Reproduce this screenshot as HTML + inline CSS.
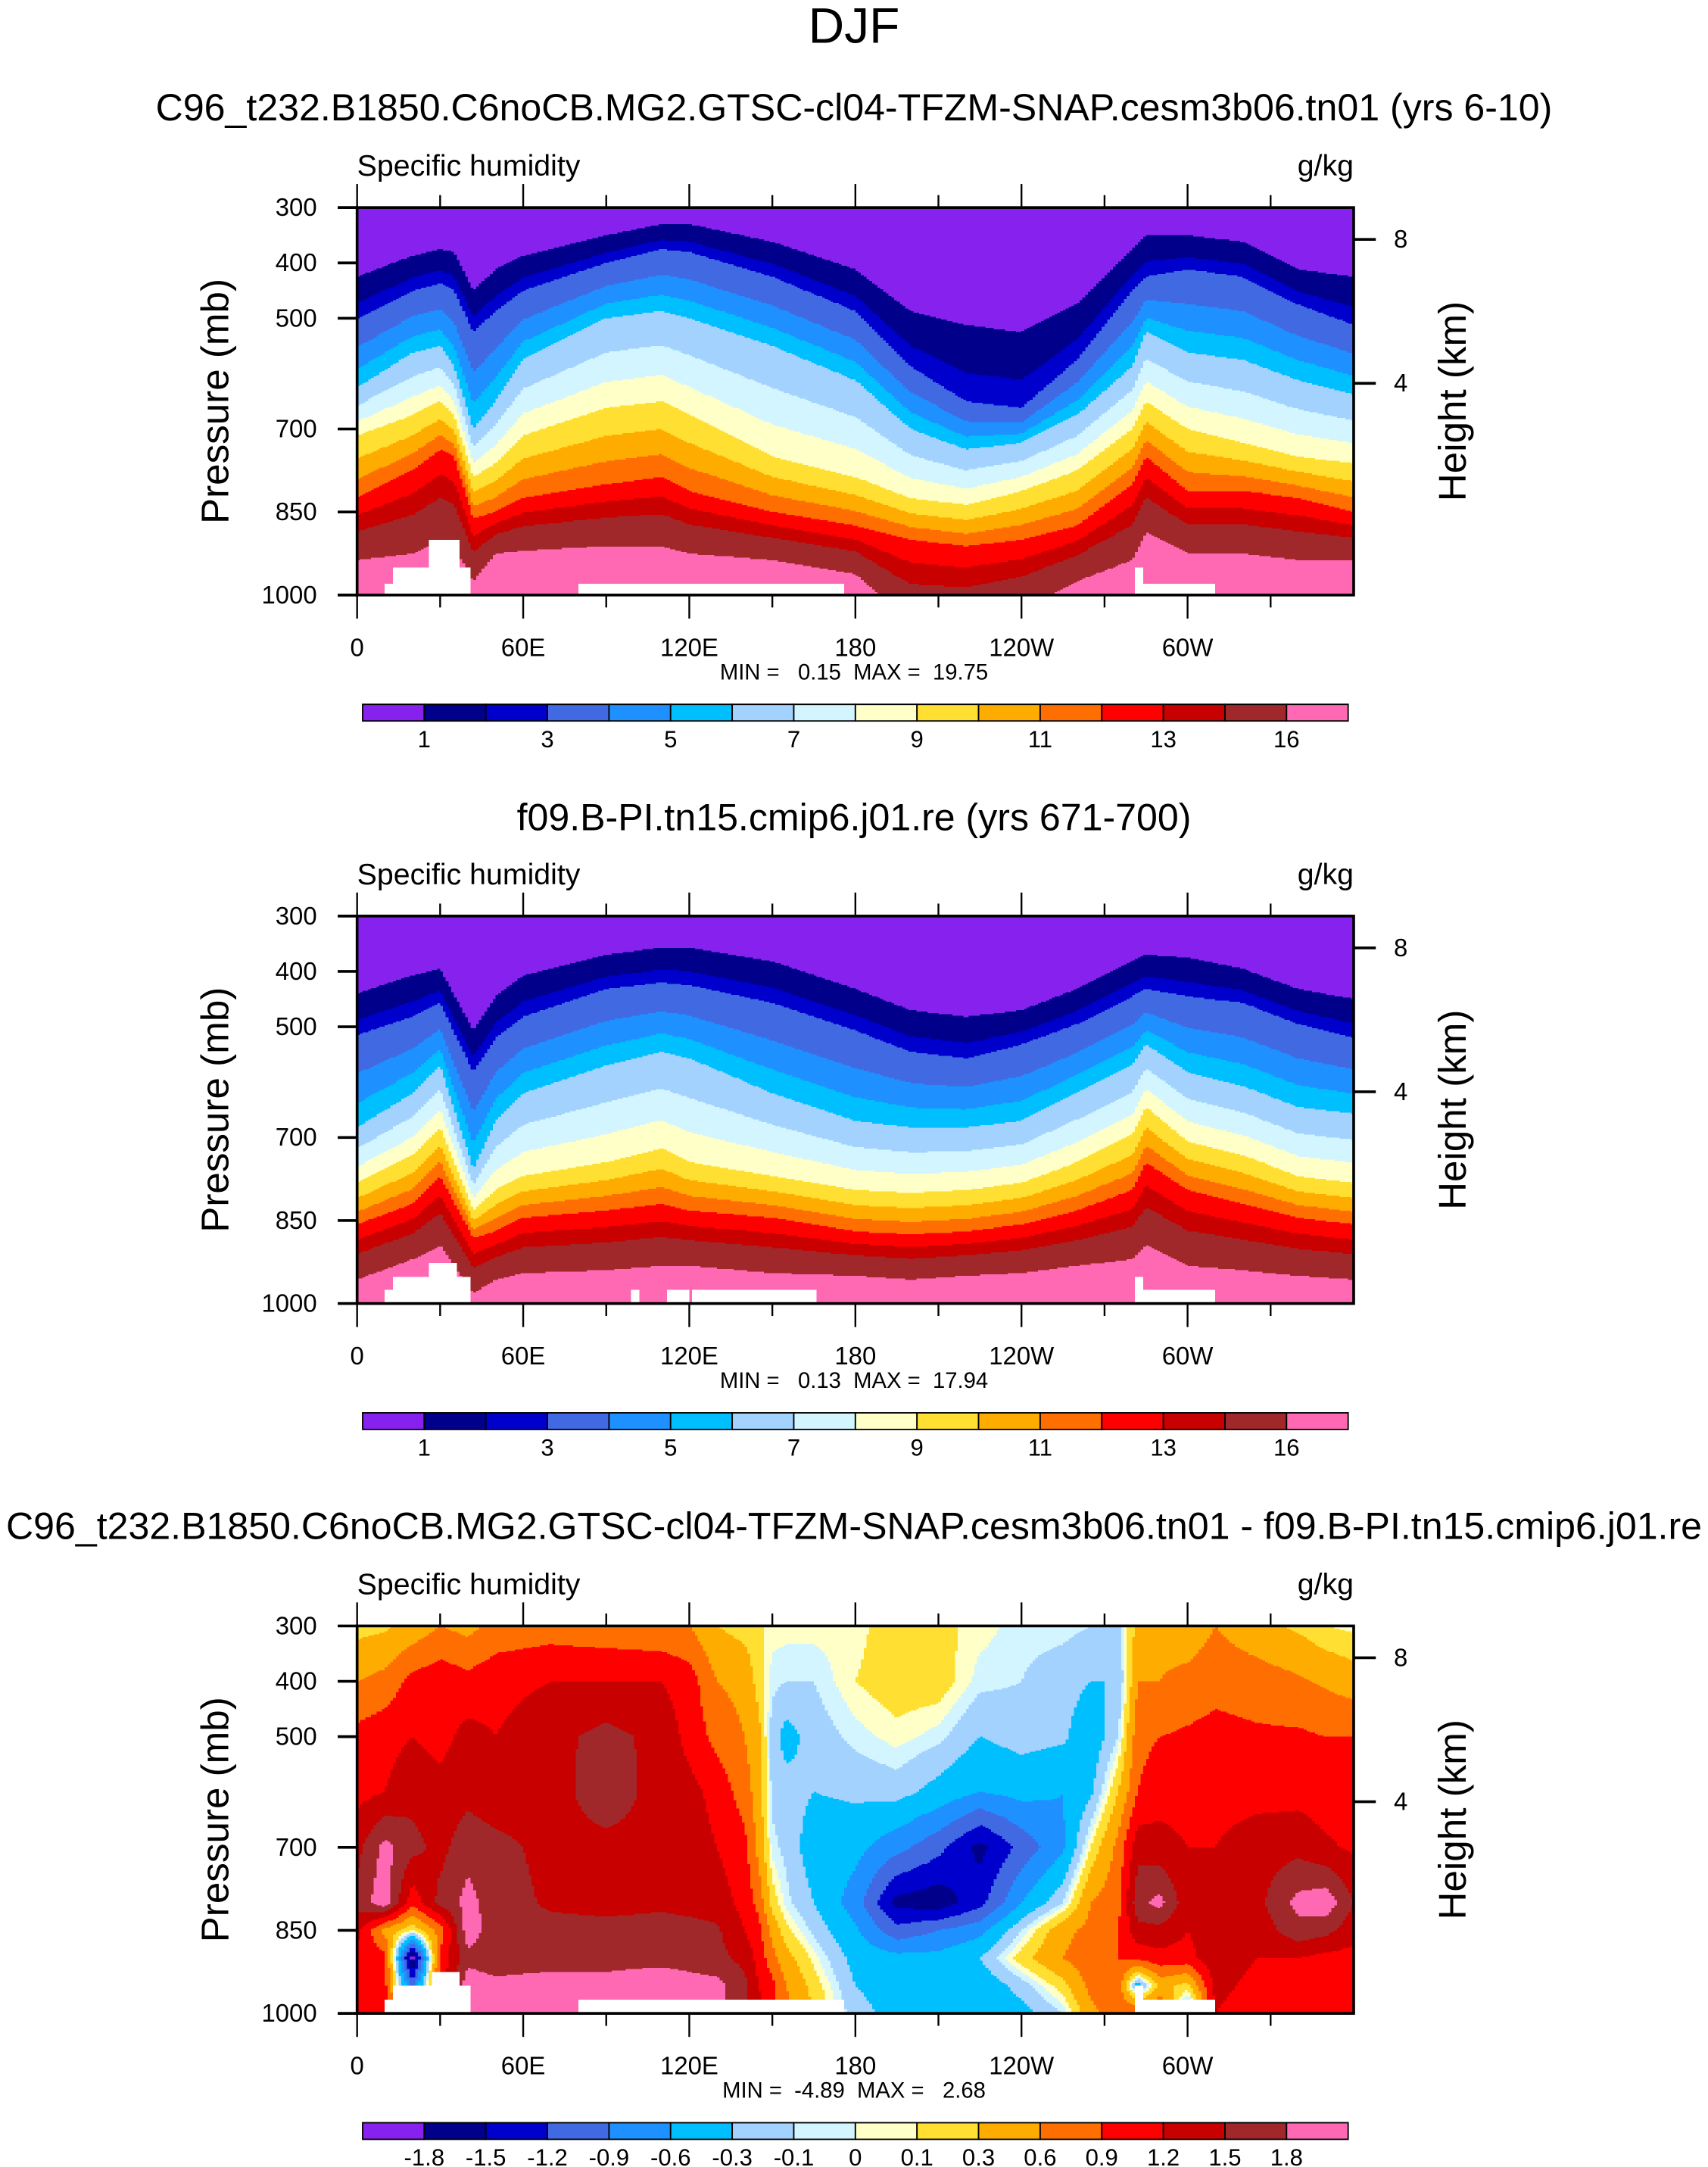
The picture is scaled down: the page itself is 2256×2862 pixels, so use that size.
<!DOCTYPE html>
<html><head><meta charset="utf-8"><style>
html,body{margin:0;padding:0;background:#fff;}
svg{display:block;font-family:"Liberation Sans",sans-serif;}
.pre{white-space:pre;}
</style></head><body>
<svg id="fig" width="2256" height="2862" viewBox="0 0 1234 1566" preserveAspectRatio="none" xmlns="http://www.w3.org/2000/svg">
<text x="617" y="31" font-size="36" text-anchor="middle">DJF</text>
</svg>
<script>
// ---------- data ----------
const colors = ["#8722ee","#00008b","#0000cd","#4169e1","#1e90ff","#00bfff","#a3d2ff","#d2f5ff","#ffffc8","#ffe032","#ffac00","#ff6e00","#ff0000","#c80000","#a0282a","#ff69b4"];
const levelsQ = [1,2,3,4,5,6,7,8,9,10,11,12,13,14,16];
const levelsD = [-1.8,-1.5,-1.2,-0.9,-0.6,-0.3,-0.1,0,0.1,0.3,0.6,0.9,1.2,1.5,1.8];
const labelsQ = ["1","3","5","7","9","11","13","16"];
const labelsD = ["-1.8","-1.5","-1.2","-0.9","-0.6","-0.3","-0.1","0","0.1","0.3","0.6","0.9","1.2","1.5","1.8"];
const isoLevels = [1,3,6,9,12,16];
const xTickLons = [0,60,120,180,240,300];
const xTickLabels = ["0","60E","120E","180","120W","60W"];
const pTicks = [300,400,500,700,850,1000];
const hTicks = [[8,173],[4,277]];

// panel 1: pressure (mb) of isolines q=1,3,6,9,12,16 at each longitude
const lons1 = [0,20,30,35,42,50,60,90,110,120,150,180,200,220,240,260,280,285,300,320,340,360];
const iso1_1 = [425,387,375,380,450,412,387,350,330,330,362,412,487,512,525,475,375,350,350,362,412,425];
const iso1_3 = [500,450,437,450,525,487,450,400,375,380,425,487,587,650,662,575,450,425,412,425,475,512];
const iso1_6 = [625,562,550,587,700,650,575,500,487,500,550,612,700,737,725,675,587,525,562,575,612,637];
const iso1_9 = [712,675,650,675,787,762,712,662,650,675,750,787,825,837,812,775,700,650,700,725,750,762];
const iso1_12 = [825,775,737,750,862,850,825,800,787,812,850,875,900,912,900,875,800,750,812,812,825,850];
const iso1_16 = [937,925,900,912,975,925,920,912,912,925,937,962,1050,1050,1025,975,937,887,925,925,937,937];
const ground1 = [[10,13,980],[13,26,950],[26,37,900],[37,41,950],[80,176,980],[281,284,950],[284,310,980]];

// panel 2
const lons2 = [0,20,30,42,50,60,90,110,120,150,180,200,220,240,260,280,285,300,320,340,360];
const iso2_1 = [440,407,395,507,445,407,370,357,357,382,432,470,482,470,432,382,370,375,395,432,450];
const iso2_3 = [515,482,457,582,520,482,432,420,425,457,507,545,557,532,495,445,432,445,457,495,520];
const iso2_6 = [682,620,570,757,670,620,570,545,557,620,670,682,682,670,620,570,532,582,607,645,657];
const iso2_9 = [782,732,682,832,795,770,745,720,745,770,795,800,795,782,745,695,645,707,732,770,782];
const iso2_12 = [857,820,770,882,870,845,832,820,832,845,870,875,870,857,832,795,745,795,820,845,857];
const iso2_16 = [957,920,895,982,957,945,940,932,932,945,950,957,950,945,932,920,895,932,940,950,957];
const ground2 = [[10,13,975],[13,26,952],[26,36,927],[36,41,952],[99,102,975],[112,120,975],[121,166,975],[281,284,952],[284,310,975]];

// panel 3: difference field on grid (lon x pressure)
const lons3 = [0,10,20,30,40,50,70,90,110,120,130,140,145,150,155,165,180,195,210,225,240,255,265,275,282,290,300,310,325,340,350,360];
const pres3 = [300,400,500,600,700,800,850,900,950,1000];
const diff3 = [
[0.2,0.6,1.0,1.1,1.4,1.6,1.3,1.1,1.1,1.0],
[0.25,0.7,1.1,1.2,1.9,2.0,0.5,1.0,1.0,1.0],
[0.4,1.0,1.2,1.4,1.6,1.0,0.1,-2.0,-1.0,0.5],
[0.6,1.1,1.1,1.3,1.4,1.6,0.7,1.0,1.0,1.0],
[0.5,1.0,1.3,1.4,1.7,1.9,2.0,1.7,2.0,2.0],
[0.7,1.1,1.2,1.3,1.6,1.65,1.6,1.6,1.9,2.0],
[0.75,1.2,1.4,1.35,1.4,1.45,1.6,1.6,2.0,2.0],
[0.7,1.2,1.6,1.7,1.4,1.4,1.6,1.7,1.9,2.0],
[0.65,1.2,1.4,1.35,1.4,1.45,1.6,1.7,2.0,2.0],
[0.6,1.05,1.1,1.3,1.35,1.4,1.6,1.7,1.9,2.0],
[0.3,0.6,0.8,1.1,1.2,1.35,1.55,1.6,1.9,1.9],
[0.2,0.5,0.6,0.75,1.0,1.1,1.2,1.4,1.6,1.6],
[0.15,0.2,0.4,0.45,0.5,0.8,1.0,1.1,1.2,1.3],
[0.05,-0.05,-0.2,-0.15,-0.05,0.2,0.5,0.7,1.0,1.0],
[0.05,-0.1,-0.4,-0.2,-0.15,-0.05,0.15,0.4,0.6,0.7],
[0.05,-0.1,-0.2,-0.3,-0.45,-0.3,-0.15,0.05,0.2,0.3],
[0.05,0.1,-0.05,-0.25,-0.5,-0.75,-0.55,-0.4,-0.3,-0.2],
[0.2,0.2,0.05,-0.2,-0.8,-1.6,-1.1,-0.5,-0.45,-0.4],
[0.15,0.2,-0.05,-0.4,-1.1,-1.7,-0.9,-0.5,-0.45,-0.45],
[0.05,-0.05,-0.3,-0.6,-1.6,-1.3,-0.7,-0.3,-0.5,-0.5],
[-0.05,-0.1,-0.2,-0.5,-1.1,-0.6,-0.1,0.2,-0.2,-0.4],
[-0.05,-0.2,-0.25,-0.6,-0.65,-0.1,0.5,0.6,0.2,-0.1],
[-0.1,-0.3,-0.5,-0.35,0.1,0.6,0.7,0.8,0.7,0.5],
[-0.2,-0.3,-0.1,0.3,0.7,0.8,0.9,0.9,0.8,0.8],
[0.4,0.6,0.8,0.9,1.4,1.7,1.4,1.0,-0.5,1.0],
[0.5,0.6,0.9,1.1,1.3,1.9,1.4,1.1,0.4,1.0],
[0.4,0.7,0.95,1.1,1.2,1.3,1.2,1.1,0.2,-0.5],
[0.6,0.8,1.0,1.1,1.2,1.4,1.4,1.4,1.3,1.2],
[0.4,0.75,0.95,1.1,1.35,1.4,1.3,1.2,1.1,1.0],
[0.25,0.65,0.95,1.1,1.4,1.9,1.7,1.2,1.1,1.0],
[0.1,0.55,0.9,1.05,1.25,2.0,1.6,1.1,1.0,1.0],
[0.05,0.45,0.9,1.05,1.15,1.5,1.3,1.1,1.0,1.0]
];
const ground3 = [[10,13,975],[13,27,950],[27,37,925],[37,41,950],[80,176,975],[281,284,950],[284,310,975]];

// ---------- geometry ----------
const NS = "http://www.w3.org/2000/svg";
const svg = document.getElementById('fig');
const X0 = 258, X1 = 978, PH = 280;
function xOf(lon){ return X0 + (X1 - X0) * lon / 360; }
function yOf(p, top){ return top + (p - 300) / 700 * PH; }
function mk(tag, attrs, parent){ const e = document.createElementNS(NS, tag); for (const k in attrs) e.setAttribute(k, attrs[k]); (parent||svg).appendChild(e); return e; }
function interp1(xs, ys, x){
  if (x <= xs[0]) return ys[0];
  for (let i = 1; i < xs.length; i++) if (x <= xs[i]) { const t = (x - xs[i-1]) / (xs[i] - xs[i-1]); return ys[i-1] + t * (ys[i] - ys[i-1]); }
  return ys[ys.length-1];
}
function bandOf(v, levels){ let b = 0; for (const l of levels) if (v >= l) b++; return b; }
function qIso(isos, lons, lon, p){
  const P = isos.map(a => interp1(lons, a, lon));
  const L = isoLevels.map(Math.log);
  let k = 0;
  if (p <= P[0]) k = 0; else if (p >= P[P.length-1]) k = P.length - 2;
  else { for (let i = 0; i < P.length - 1; i++) if (p >= P[i] && p <= P[i+1]) { k = i; break; } }
  const t = (p - P[k]) / Math.max(1, P[k+1] - P[k]);
  return Math.exp(L[k] + t * (L[k+1] - L[k]));
}
function qGrid(lon, p){
  const col = pres3.map((_, j) => interp1(lons3, diff3.map(r => r[j]), lon));
  return interp1(pres3, col, p);
}

function drawField(top, valFn, levels, ground, name){
  const g = mk('g', {'shape-rendering':'crispEdges'});
  
  
  const step = 1;
  for (let lon = 0; lon < 360; lon += step) {
    const lc = lon + step/2;
    const x = xOf(lon), w = xOf(lon + step) - x + 0.6;
    let runStart = 0, runBand = -1;
    const rows = PH;
    for (let r = 0; r <= rows; r++) {
      let b = -2;
      if (r < rows) { const p = 300 + (r + 0.5) / rows * 700; b = bandOf(valFn(lc, p), levels); }
      if (b !== runBand) {
        if (runBand >= 0) {
          const rc = mk('rect', {x: x.toFixed(2), y: (top + runStart).toFixed(2), width: w.toFixed(2), height: (r - runStart + 0.6).toFixed(2), fill: colors[runBand]}, g);
          
          
        }
        runStart = r; runBand = b;
      }
    }
  }
  for (const gr of ground) {
    const r = mk('rect', {x: xOf(gr[0]), y: yOf(gr[2], top), width: xOf(gr[1]) - xOf(gr[0]), height: yOf(1000, top) - yOf(gr[2], top), fill: '#fff'}, g);
    
    
  }
}

function drawAxes(top, minmax, name){
  const g = mk('g', {stroke:'#000', fill:'none'});
  
  
  const fr = mk('rect', {x: X0, y: top, width: X1 - X0, height: PH, 'stroke-width': 2}, g);
  
  
  for (let lon = 0; lon < 360; lon += 30) {
    const major = lon % 60 === 0, L = major ? 17 : 9, x = xOf(lon);
    mk('line', {x1: x, y1: top + PH, x2: x, y2: top + PH + L, 'stroke-width': 1.3}, g);
    mk('line', {x1: x, y1: top, x2: x, y2: top - L, 'stroke-width': 1.3}, g);
  }
  xTickLons.forEach((lon, i) => {
    const t = mk('text', {x: xOf(lon), y: top + PH + 44, 'font-size': 18, 'text-anchor': 'middle', fill: '#000', stroke: 'none'});
    t.textContent = xTickLabels[i];
    
    
  });
  pTicks.forEach(p => {
    const y = yOf(p, top);
    mk('line', {x1: X0 - 14, y1: y, x2: X0, y2: y, 'stroke-width': 2}, g);
    const t = mk('text', {x: 229, y: y + 6, 'font-size': 18, 'text-anchor': 'end', fill: '#000', stroke: 'none'});
    t.textContent = String(p);
    
    
  });
  hTicks.forEach(h => {
    const y = top + (h[1] - 150);
    mk('line', {x1: X1, y1: y, x2: X1 + 16, y2: y, 'stroke-width': 2}, g);
    const t = mk('text', {x: 1012, y: y + 6, 'font-size': 18, 'text-anchor': 'middle', fill: '#000', stroke: 'none'});
    t.textContent = String(h[0]);
    
    
  });
  const yl = mk('text', {x: 0, y: 0, 'font-size': 28, 'text-anchor': 'middle', transform: `translate(165 ${top + 140}) rotate(-90)`});
  yl.textContent = 'Pressure (mb)';
  
  
  const yr = mk('text', {x: 0, y: 0, 'font-size': 28, 'text-anchor': 'middle', transform: `translate(1059 ${top + 140}) rotate(-90)`});
  yr.textContent = 'Height (km)';
  
  
  const s = mk('text', {x: X0, y: top - 23, 'font-size': 21.5});
  s.textContent = 'Specific humidity';
  
  
  const u = mk('text', {x: X1, y: top - 23, 'font-size': 21.5, 'text-anchor': 'end'});
  u.textContent = 'g/kg';
  
  
  const m = mk('text', {x: 617, y: top + PH + 61, 'font-size': 16, 'text-anchor': 'middle', 'class': 'pre'});
  m.textContent = minmax;
  
  
}

function drawColorbar(y, labels, name, everyOther){
  const g = mk('g', {});
  
  
  const bx0 = 262, bx1 = 974, n = colors.length, w = (bx1 - bx0) / n;
  colors.forEach((c, i) => {
    const r = mk('rect', {x: bx0 + i * w, y: y, width: w, height: 12, fill: c, stroke: '#000', 'stroke-width': 1}, g);
    
    
  });
  labels.forEach((lab, i) => {
    const k = everyOther ? 2 * i + 1 : i + 1;
    const t = mk('text', {x: bx0 + k * w, y: y + 31, 'font-size': 17, 'text-anchor': 'middle'}, g);
    t.textContent = lab;
    
    
  });
}

function title(y, txt, name, fs){
  const t = mk('text', {x: 617, y: y, 'font-size': fs, 'text-anchor': 'middle'});
  t.textContent = txt;
  
  
}

const iso1 = [iso1_1, iso1_3, iso1_6, iso1_9, iso1_12, iso1_16];
const iso2 = [iso2_1, iso2_3, iso2_6, iso2_9, iso2_12, iso2_16];
title(87, 'C96_t232.B1850.C6noCB.MG2.GTSC-cl04-TFZM-SNAP.cesm3b06.tn01 (yrs 6-10)', 'panel1-title', 27.4);
drawField(150, (lon, p) => qIso(iso1, lons1, lon, p), levelsQ, ground1, 'panel1-field');
drawAxes(150, 'MIN =   0.15  MAX =  19.75', 'panel1');
drawColorbar(509, labelsQ, 'panel1-colorbar', true);

title(600, 'f09.B-PI.tn15.cmip6.j01.re (yrs 671-700)', 'panel2-title', 27.4);
drawField(662, (lon, p) => qIso(iso2, lons2, lon, p), levelsQ, ground2, 'panel2-field');
drawAxes(662, 'MIN =   0.13  MAX =  17.94', 'panel2');
drawColorbar(1021, labelsQ, 'panel2-colorbar', true);

title(1112, 'C96_t232.B1850.C6noCB.MG2.GTSC-cl04-TFZM-SNAP.cesm3b06.tn01 - f09.B-PI.tn15.cmip6.j01.re', 'panel3-title', 27.4);
drawField(1175, qGrid, levelsD, ground3, 'panel3-field');
drawAxes(1175, 'MIN =  -4.89  MAX =   2.68', 'panel3');
drawColorbar(1534, labelsD, 'panel3-colorbar', false);
</script>
</body></html>
